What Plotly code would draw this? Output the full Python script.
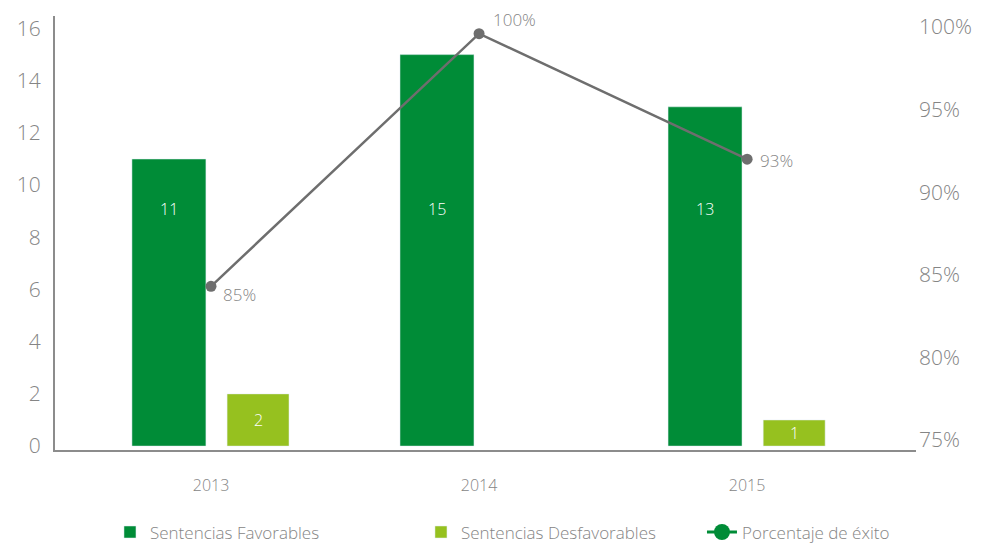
"""Sentencias favorables / desfavorables y porcentaje de éxito, 2013-2015."""

import plotly.graph_objects as go

YEARS = ["2013", "2014", "2015"]
FAVORABLES = [11, 15, 13]
DESFAVORABLES = [2, None, 1]
PCT_EXITO = [84.3, 99.6, 92.0]
PCT_LABELS = ["85%", "100%", "93%"]
PCT_TICKS = [75, 80, 85, 90, 95, 100]

DARK_GREEN = "#008C37"
LIGHT_GREEN = "#96C11F"
LINE_GREY = "#6E6E6E"
TEXT_GREY = "#858585"
AXIS_GREY = "#8C8C8C"
FONT = "Open Sans"

# height (left axis units) where the labels of the dark bars sit
FAV_LABEL_Y = 9.1
# pixel shifts of the percentage labels relative to their points
PCT_LABEL_SHIFTS = [(10, -8), (12, 14), (11, -1)]

fig = go.Figure()

fig.add_trace(go.Bar(
    name="Sentencias Favorables",
    x=YEARS,
    y=FAVORABLES,
    width=0.276,
    offset=-0.295,
    marker_color=DARK_GREEN,
    hoverinfo="x+y",
    legend="legend",
))

fig.add_trace(go.Bar(
    name="Sentencias Desfavorables",
    x=YEARS,
    y=DESFAVORABLES,
    width=0.231,
    offset=0.06,
    marker_color=LIGHT_GREEN,
    hoverinfo="x+y",
    legend="legend2",
))

fig.add_trace(go.Scatter(
    x=YEARS,
    y=PCT_EXITO,
    yaxis="y2",
    mode="lines+markers",
    line=dict(color=LINE_GREY, width=2.5),
    marker=dict(color=LINE_GREY, size=11),
    cliponaxis=False,
    showlegend=False,
))

# legend entry only: the legend draws the line in green
fig.add_trace(go.Scatter(
    x=[None],
    y=[None],
    name="Porcentaje de éxito",
    mode="lines+markers",
    line=dict(color=DARK_GREEN, width=3),
    marker=dict(color=DARK_GREEN, size=16),
    legend="legend3",
))

# labels (category index used as x so the category axis places them)
for i, value in enumerate(FAVORABLES):
    fig.add_annotation(
        x=i,
        y=FAV_LABEL_Y,
        text=str(value),
        showarrow=False,
        xshift=-42,
        font=dict(color="white", size=16, family=FONT),
    )

for i, value in enumerate(DESFAVORABLES):
    if value is None:
        continue
    fig.add_annotation(
        x=i,
        y=value / 2,
        text=str(value),
        showarrow=False,
        xshift=47,
        font=dict(color="white", size=16, family=FONT),
    )

for i, (value, label) in enumerate(zip(PCT_EXITO, PCT_LABELS)):
    dx, dy = PCT_LABEL_SHIFTS[i]
    fig.add_annotation(
        x=i,
        y=value,
        yref="y2",
        text=label,
        showarrow=False,
        xanchor="left",
        xshift=dx,
        yshift=dy,
        font=dict(color=TEXT_GREY, size=17, family=FONT),
    )


def _legend_box(x):
    """One single-entry legend below the plot, left edge at container fraction x."""
    return dict(
        orientation="h",
        xref="container",
        x=x,
        xanchor="left",
        y=-0.19,
        yanchor="middle",
        font=dict(size=17, color=TEXT_GREY),
    )


# the page body adds an 8px margin, so the figure is 8px smaller than the window
fig.update_layout(
    width=974,
    height=539,
    margin=dict(l=47, r=66, t=8, b=97, autoexpand=False),
    plot_bgcolor="white",
    paper_bgcolor="white",
    font=dict(family=FONT, color=TEXT_GREY, weight=300),
    barmode="overlay",
    xaxis=dict(
        type="category",
        range=[-0.582, 2.63],
        showline=True,
        linecolor=AXIS_GREY,
        linewidth=2,
        showgrid=False,
        ticks="",
        ticklabelstandoff=20,
        tickfont=dict(size=16, color=TEXT_GREY),
    ),
    yaxis=dict(
        range=[-0.15, 16.48],
        dtick=2,
        showline=True,
        linecolor=AXIS_GREY,
        linewidth=2,
        showgrid=False,
        zeroline=False,
        ticks="",
        ticklabelstandoff=8,
        tickfont=dict(size=21, color=TEXT_GREY),
    ),
    yaxis2=dict(
        overlaying="y",
        side="right",
        range=[74.39, 100.67],
        tickvals=PCT_TICKS,
        ticktext=[f"{v}%" for v in PCT_TICKS],
        showline=False,
        showgrid=False,
        zeroline=False,
        ticks="",
        ticklabelstandoff=2,
        tickfont=dict(size=21, color=TEXT_GREY),
    ),
    legend=_legend_box(0.1047),
    legend2=_legend_box(0.424),
    legend3=_legend_box(0.7125),
)

fig.write_html("out.html")
